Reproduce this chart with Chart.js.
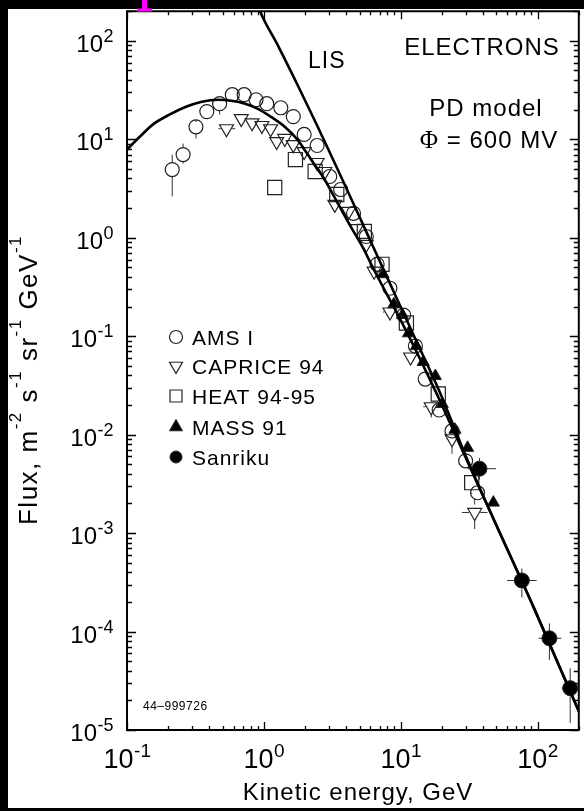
<!DOCTYPE html>
<html>
<head>
<meta charset="utf-8">
<script src="https://cdn.jsdelivr.net/npm/chart.js@4.4.0/dist/chart.umd.min.js"></script>
<style>
html, body { margin: 0; padding: 0; background: #fff; overflow: hidden; }
canvas { display: block; }
</style>
</head>
<body>
<canvas id="chart" width="590" height="811"></canvas>
<script>
// energies in GeV, flux in m^-2 s^-1 sr^-1 GeV^-1
var xMin = 0.1, xMax = 200, yMin = 1e-5, yMax = 200;
var xDecades = [-1, 0, 1, 2];
var yDecades = [-5, -4, -3, -2, -1, 0, 1, 2];

// PD model, modulated spectrum (phi = 600 MV)
var pdE = [0.1, 0.124, 0.154, 0.204, 0.27, 0.352, 0.467, 0.579, 0.73, 0.906, 1.12, 1.42, 1.76, 2.07, 2.45, 2.75, 3.41, 4.22, 5.33, 6.29, 10.7, 17.9, 29.4, 48.2, 93.6, 200];
var pdF = [7.87, 10.6, 14.1, 17.8, 21.4, 24.1, 25.2, 24.6, 23.0, 20.4, 17.0, 13.4, 9.93, 7.16, 5.05, 4.0, 2.34, 1.37, 0.78, 0.49, 0.121, 0.0278, 0.0061, 0.00134, 1.76e-4, 1.55e-5];

// local interstellar spectrum
var lisE = [0.85, 0.936, 1.26, 1.76, 2.45, 3.41, 4.75, 6.61, 9.2, 12.8, 19.4, 29.4, 48.2, 93.6, 200];
var lisF = [300, 201, 91, 35.8, 13.8, 5.17, 1.9, 0.695, 0.255, 0.0935, 0.0265, 0.0064, 0.00134, 1.76e-4, 1.55e-5];

var amsE = [0.214, 0.257, 0.319, 0.383, 0.475, 0.588, 0.718, 0.876, 1.05, 1.33, 1.64, 1.97, 2.45, 3.03, 3.64, 4.52, 5.6, 6.72, 8.34, 10.5, 12.8, 15.1, 19.1, 23.7, 29.8, 36.4];
var amsF = [4.93, 7.0, 13.4, 19.1, 23.0, 28.4, 28.4, 25.2, 23.0, 20.9, 17.0, 11.2, 8.65, 4.19, 3.09, 1.77, 1.03, 0.537, 0.307, 0.164, 0.0794, 0.0367, 0.0178, 0.0109, 0.00542, 0.00257];
var amsFLo = [2.63, 5.68, 10.2, null, 17.8, null, null, null, null, null, null, null, null, null, null, null, null, null, null, null, null, null, null, null, null, null];
var amsFHi = [7.0, 9.04, 15.0, null, 27.0, null, null, null, null, null, null, null, null, null, null, null, null, null, null, null, null, null, null, null, null, null];

var capE = [0.533, 0.684, 0.82, 0.967, 1.12, 1.24, 1.42, 1.64, 1.97, 2.45, 2.79, 3.3, 4.16, 4.75, 5.6, 6.39, 8.34, 11.8, 16.7, 23.7, 34.7];
var capF = [12.8, 16.2, 14.7, 13.8, 12.8, 9.48, 10.2, 8.83, 7.5, 5.81, 4.71, 2.18, 1.85, 1.24, 0.857, 0.457, 0.176, 0.0615, 0.0192, 0.00908, 0.00162];
var capELo = [0.466, null, null, null, null, null, null, null, null, null, null, null, null, null, null, null, 7.42, null, 14.6, 21.8, 28.0];
var capEHi = [0.618, null, null, null, null, null, null, null, null, null, null, null, null, null, null, null, 9.68, null, 18.8, 26.1, 43.0];
var capFLo = [null, null, null, null, null, null, null, null, null, null, null, null, null, null, null, null, null, null, 0.0149, 0.0064, 0.0011];
var capFHi = [null, null, null, null, null, null, null, null, null, null, null, null, null, null, null, null, null, null, null, null, 0.00227];

var heatE = [1.2, 1.7, 2.37, 3.41, 5.42, 7.3, 11.0, 18.8, 33.0];
var heatF = [3.24, 6.22, 4.71, 2.75, 1.16, 0.537, 0.136, 0.0259, 0.00325];
var heatFLo = [null, null, null, null, null, null, null, null, 0.0025];
var heatFHi = [null, null, null, null, null, null, null, null, 0.0043];

var massE = [7.42, 8.91, 10.3, 11.4, 13.0, 14.6, 17.9, 20.1, 24.9, 30.8, 47.5];
var massF = [0.426, 0.211, 0.164, 0.107, 0.0794, 0.0547, 0.0394, 0.0205, 0.0112, 0.00735, 0.00204];

var sanE = [37.6, 76.7, 122, 173];
var sanF = [0.00451, 3.3e-4, 8.54e-5, 2.66e-5];
var sanELo = [30.8, 59.8, 101.7, 150];
var sanEHi = [49.7, 98.4, 149, 250];
var sanFLo = [0.0035, 2.22e-4, 5.13e-5, 1.18e-5];
var sanFHi = [0.0058, 4.37e-4, 1.21e-4, 4.24e-5];

var legendLabels = ["AMS I", "CAPRICE 94", "HEAT 94-95", "MASS 91", "Sanriku"];

var SANS = '"Liberation Sans", Arial, Helvetica, sans-serif';
var INK = "#222";

function pts(xs, ys) {
    var out = [];
    for (var i = 0; i < xs.length; i++) {
        out.push({ x: xs[i], y: ys[i] });
    }
    return out;
}

function lineSet(label, xs, ys) {
    return {
        label: label, data: pts(xs, ys), showLine: true,
        borderColor: "#000", borderWidth: 2.6, pointRadius: 0,
        cubicInterpolationMode: "monotone", fill: false
    };
}

function markSet(label, xs, ys, style, r, rot, filled, err) {
    return {
        label: label, data: pts(xs, ys), showLine: false,
        pointStyle: style, pointRadius: r, pointRotation: rot,
        pointBorderColor: INK, pointBorderWidth: filled ? 1 : 1.2,
        pointBackgroundColor: filled ? "#000" : "rgba(0,0,0,0)",
        err: err
    };
}

var datasets = [
    lineSet("PD model", pdE, pdF),
    lineSet("LIS", lisE, lisF),
    markSet("AMS I", amsE, amsF, "circle", 7, 0, false, { yLo: amsFLo, yHi: amsFHi }),
    markSet("CAPRICE 94", capE, capF, "triangle", 8, 180, false, { xLo: capELo, xHi: capEHi, yLo: capFLo, yHi: capFHi }),
    markSet("HEAT 94-95", heatE, heatF, "rect", 10, 0, false, { yLo: heatFLo, yHi: heatFHi }),
    markSet("MASS 91", massE, massF, "triangle", 7, 0, true, null),
    markSet("Sanriku", sanE, sanF, "circle", 7.5, 0, true, { xLo: sanELo, xHi: sanEHi, yLo: sanFLo, yHi: sanFHi })
];

function drawSymbol(ctx, style, r, rot, filled, x, y) {
    ctx.save();
    ctx.strokeStyle = INK;
    ctx.lineWidth = filled ? 1 : 1.2;
    ctx.fillStyle = filled ? "#000" : "rgba(0,0,0,0)";
    Chart.helpers.drawPoint(ctx, { pointStyle: style, radius: r, rotation: rot, borderWidth: ctx.lineWidth }, x, y);
    ctx.restore();
}

function powLabel(ctx, exp, x, base, mainPx, expPx, raise, align) {
    var e = String(exp);
    ctx.font = mainPx + "px " + SANS;
    var wm = ctx.measureText("10").width;
    ctx.font = expPx + "px " + SANS;
    var we = ctx.measureText(e).width;
    var x0 = align === "right" ? x - wm - we : x - (wm + we) / 2;
    ctx.textAlign = "left";
    ctx.font = mainPx + "px " + SANS;
    ctx.fillText("10", x0, base);
    ctx.font = expPx + "px " + SANS;
    ctx.fillText(e, x0 + wm + 0.5, base - raise);
}

var axesPlugin = {
    id: "axesPlugin",
    beforeDatasetsDraw: function (chart) {
        var ctx = chart.ctx, a = chart.chartArea;
        var sx = chart.scales.x, sy = chart.scales.y;
        ctx.save();
        ctx.strokeStyle = "#000";
        ctx.lineWidth = 2;
        ctx.beginPath();
        ctx.moveTo(a.left, a.top); ctx.lineTo(a.left, a.bottom); ctx.lineTo(a.right, a.bottom);
        ctx.lineTo(a.right, a.top); ctx.closePath();
        ctx.stroke();
        ctx.lineWidth = 1.3;
        ctx.beginPath();
        var d, k, v, p, len;
        for (d = -2; d <= 3; d++) {
            for (k = 1; k <= 9; k++) {
                v = k * Math.pow(10, d);
                if (v < xMin * 0.999 || v > xMax * 1.001) continue;
                p = Math.round(sx.getPixelForValue(v)) + 0.5;
                len = k === 1 ? 8 : 4;
                ctx.moveTo(p, a.bottom); ctx.lineTo(p, a.bottom - len);
                ctx.moveTo(p, a.top); ctx.lineTo(p, a.top + len);
            }
        }
        for (d = -6; d <= 3; d++) {
            for (k = 1; k <= 9; k++) {
                v = k * Math.pow(10, d);
                if (v < yMin * 0.999 || v > yMax * 1.001) continue;
                p = Math.round(sy.getPixelForValue(v)) + 0.5;
                len = k === 1 ? 9 : 5;
                ctx.moveTo(a.left, p); ctx.lineTo(a.left + len, p);
                ctx.moveTo(a.right, p); ctx.lineTo(a.right - len, p);
            }
        }
        ctx.stroke();

        // error bars, kept outside the marker
        ctx.strokeStyle = "#333";
        ctx.lineWidth = 1;
        ctx.beginPath();
        chart.data.datasets.forEach(function (ds) {
            if (!ds.err) return;
            var r = ds.pointRadius;
            ds.data.forEach(function (pt, i) {
                var cx = sx.getPixelForValue(pt.x), cy = sy.getPixelForValue(pt.y);
                var e = ds.err;
                if (e.yHi && e.yHi[i] != null) { ctx.moveTo(cx, cy - r); ctx.lineTo(cx, sy.getPixelForValue(e.yHi[i])); }
                if (e.yLo && e.yLo[i] != null) { ctx.moveTo(cx, cy + r); ctx.lineTo(cx, sy.getPixelForValue(e.yLo[i])); }
                if (e.xLo && e.xLo[i] != null) { ctx.moveTo(cx - r * 0.7, cy); ctx.lineTo(sx.getPixelForValue(e.xLo[i]), cy); }
                if (e.xHi && e.xHi[i] != null) { ctx.moveTo(cx + r * 0.7, cy); ctx.lineTo(Math.min(sx.getPixelForValue(e.xHi[i]), a.right), cy); }
            });
        });
        ctx.stroke();
        ctx.restore();
    },
    afterDraw: function (chart) {
        var ctx = chart.ctx;
        var sx = chart.scales.x, sy = chart.scales.y;
        ctx.save();
        ctx.fillStyle = "#000";
        ctx.textBaseline = "alphabetic";
        var i;
        for (i = 0; i < yDecades.length; i++) {
            var py = sy.getPixelForValue(Math.pow(10, yDecades[i]));
            powLabel(ctx, yDecades[i], 113, py + 11, 24, 18, 10, "right");
        }
        for (i = 0; i < xDecades.length; i++) {
            var px = sx.getPixelForValue(Math.pow(10, xDecades[i]));
            powLabel(ctx, xDecades[i], px, 768, 27, 19, 11, "center");
        }

        ctx.letterSpacing = "1px";
        // x title
        ctx.font = "24px " + SANS;
        ctx.textAlign = "center";
        ctx.fillText("Kinetic energy, GeV", 358, 800);

        // y title, rotated
        var segs = [["Flux, m", 0], ["-2", 1], [" s", 0], ["-1", 1], [" sr", 0], ["-1", 1], [" GeV", 0], ["-1", 1]];
        ctx.letterSpacing = "1.5px";
        var total = 0, j;
        for (j = 0; j < segs.length; j++) {
            ctx.font = (segs[j][1] ? 17 : 26) + "px " + SANS;
            total += ctx.measureText(segs[j][0]).width;
        }
        ctx.save();
        ctx.translate(37, 380);
        ctx.rotate(-Math.PI / 2);
        ctx.textAlign = "left";
        var cx = -total / 2;
        for (j = 0; j < segs.length; j++) {
            ctx.font = (segs[j][1] ? 17 : 26) + "px " + SANS;
            ctx.fillText(segs[j][0], cx, segs[j][1] ? -16 : 0);
            cx += ctx.measureText(segs[j][0]).width;
        }
        ctx.restore();
        ctx.letterSpacing = "1px";

        // annotations
        ctx.textAlign = "left";
        ctx.font = "23px " + SANS;
        ctx.fillText("LIS", 308, 68);
        ctx.textAlign = "center";
        ctx.font = "24px " + SANS;
        ctx.fillText("ELECTRONS", 482, 55);
        ctx.fillText("PD model", 486, 116);
        ctx.font = "24px " + SANS;
        var phiRest = " = 600 MV";
        var wr = ctx.measureText(phiRest).width;
        ctx.font = "25px \"Liberation Serif\", serif";
        var wp = ctx.measureText("\u03A6").width;
        var x0 = 489 - (wr + wp) / 2;
        ctx.textAlign = "left";
        ctx.fillText("\u03A6", x0, 148);
        ctx.font = "24px " + SANS;
        ctx.fillText(phiRest, x0 + wp, 148);

        ctx.letterSpacing = "0.5px";
        ctx.font = "12px " + SANS;
        ctx.fillText("44\u2013999726", 143, 710);

        // legend
        var ly = [337, 366, 396, 427, 457];
        var sym = [["circle", 6.5, 0, false], ["triangle", 7.5, 180, false], ["rect", 8.5, 0, false], ["triangle", 7.5, 0, true], ["circle", 6, 0, true]];
        ctx.letterSpacing = "1px";
        for (i = 0; i < legendLabels.length; i++) {
            drawSymbol(ctx, sym[i][0], sym[i][1], sym[i][2], sym[i][3], 176, ly[i]);
            ctx.fillStyle = "#000";
            ctx.font = "21px " + SANS;
            ctx.textAlign = "left";
            ctx.fillText(legendLabels[i], 192, ly[i] + 8);
        }
        ctx.letterSpacing = "0px";

        // black frame of the scan and the magenta mark at the top
        ctx.fillStyle = "#000";
        ctx.fillRect(0, 0, 8, 811);
        ctx.fillRect(0, 0, 590, 9);
        ctx.fillRect(0, 808, 590, 3);
        ctx.fillStyle = "#ff00ff";
        ctx.fillRect(142, 0, 5, 10);
        ctx.fillRect(137, 8.5, 15, 3);
        ctx.restore();
    }
};

var ctx = document.getElementById("chart").getContext("2d");
var chart = new Chart(ctx, {
    type: "scatter",
    data: { datasets: datasets },
    options: {
        responsive: false,
        animation: false,
        devicePixelRatio: 1,
        layout: { padding: { left: 127, top: 9, right: 4, bottom: 81 } },
        plugins: { legend: { display: false }, tooltip: { enabled: false } },
        scales: {
            x: { type: "logarithmic", min: xMin, max: xMax, display: false },
            y: { type: "logarithmic", min: yMin, max: yMax, display: false }
        }
    },
    plugins: [axesPlugin]
});
</script>
</body>
</html>
